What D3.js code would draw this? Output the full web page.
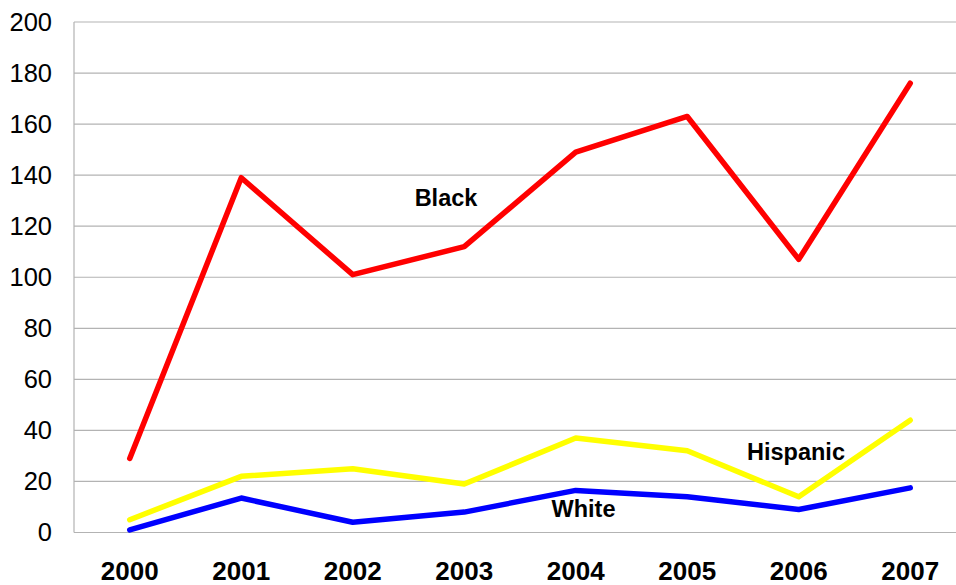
<!DOCTYPE html>
<html><head><meta charset="utf-8">
<script src="https://cdn.jsdelivr.net/npm/d3@7"></script>
<style>body{margin:0;background:#fff}svg{display:block}</style>
</head><body>
<script>
const years = ["2000","2001","2002","2003","2004","2005","2006","2007"];
const black = [29,139,101,112,149,163,107,176];
const hispanic = [5,22,25,19,37,32,14,44];
const white = [1,13.5,4,8,16.5,14,9,17.5];
const yTicks = [0,20,40,60,80,100,120,140,160,180,200];

(function(){
const W=956,H=585;
const svg=d3.select("body").append("svg").attr("width",W).attr("height",H);
const pLeft=74, pTop=22, pBottom=532.5, pRight=966;
const x=d3.scaleBand().domain(years).range([pLeft,pRight]);
const y=d3.scaleLinear().domain([0,200]).range([pBottom,pTop]);

svg.append("g").selectAll("line").data(yTicks).join("line")
  .attr("x1",pLeft).attr("x2",W).attr("y1",d=>y(d)).attr("y2",d=>y(d))
  .attr("stroke","#b3b3b3").attr("stroke-width",1.2);
svg.append("line").attr("x1",pLeft).attr("x2",pLeft).attr("y1",pTop).attr("y2",pBottom)
  .attr("stroke","#b3b3b3").attr("stroke-width",1.2);

const yAxis=d3.axisLeft(y).tickValues(yTicks).tickSize(0).tickPadding(22);
const gy=svg.append("g").attr("transform",`translate(${pLeft},0)`).call(yAxis);
gy.select(".domain").remove();
gy.selectAll("text").attr("font-family","Arial, Liberation Sans, sans-serif").attr("font-size",25.5).attr("fill","#000");

const xAxis=d3.axisBottom(x).tickSize(0).tickPadding(29);
const gx=svg.append("g").attr("transform",`translate(0,${pBottom})`).call(xAxis);
gx.select(".domain").remove();
gx.selectAll("text").attr("font-family","Arial, Liberation Sans, sans-serif").attr("font-size",26).attr("font-weight","bold").attr("fill","#000");

const line=d3.line().x((d,i)=>x(years[i])+x.bandwidth()/2).y(d=>y(d));
[[white,"#0000ff"],[hispanic,"#ffff00"],[black,"#ff0000"]].forEach(([s,c])=>{
  svg.append("path").datum(s).attr("d",line).attr("fill","none").attr("stroke",c)
    .attr("stroke-width",5.5).attr("stroke-linecap","round").attr("stroke-linejoin","round");
});

const labels=[["Black",446,206],["Hispanic",796,460],["White",583.5,517]];
svg.append("g").selectAll("text").data(labels).join("text")
  .attr("x",d=>d[1]).attr("y",d=>d[2]).attr("text-anchor","middle")
  .attr("font-family","Arial, Liberation Sans, sans-serif").attr("font-size",23.5).attr("font-weight","bold")
  .text(d=>d[0]);
})();
</script>
</body></html>
